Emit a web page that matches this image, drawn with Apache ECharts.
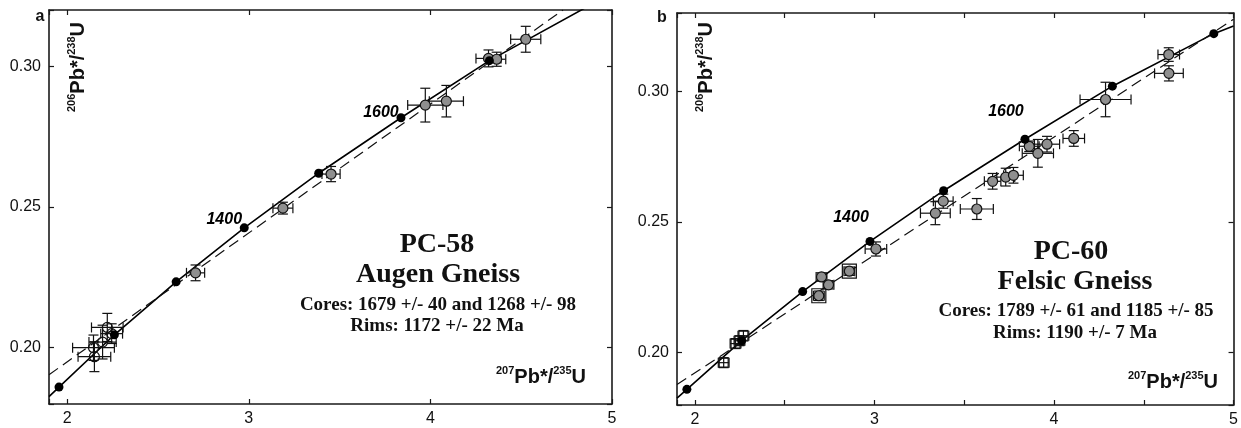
<!DOCTYPE html>
<html>
<head>
<meta charset="UTF-8">
<title>Concordia PC-58 / PC-60</title>
<script src="https://cdn.jsdelivr.net/npm/echarts@6/dist/echarts.min.js"></script>
<style>
  body { margin: 0; background: #fff; }
  #main { width: 1241px; height: 428px; }
</style>
</head>
<body>
<div id="main"></div>
<script>
// concordia age marks (Ma) and their ratios, shared by both panels
var concAge = [1100, 1200, 1300, 1400, 1500, 1600, 1700, 1800];
var concX = [1.955, 2.260, 2.600, 2.975, 3.385, 3.838, 4.325, 4.890];
var concY = [0.1860, 0.2046, 0.2234, 0.2426, 0.2620, 0.2817, 0.3020, 0.3221];
// where the concordia curve leaves the plot
var concEndX = [1.90, 5.00];
var concEndY = [0.1826, 0.3250];

// discordia chords (dashed)
var discAX = [1.90, 4.73], discAY = [0.1904, 0.3200];
var discBX = [1.90, 5.00], discBY = [0.1878, 0.3276];

// panel a : grey filled analyses
var greyAX  = [2.707, 3.188, 3.453, 3.972, 4.088, 4.320, 4.365, 4.525];
var greyAY  = [0.2266, 0.2496, 0.2617, 0.2862, 0.2876, 0.3028, 0.3025, 0.3096];
var greyAEx = [0.050, 0.055, 0.050, 0.097, 0.094, 0.069, 0.050, 0.083];
var greyAEy = [0.0028, 0.0021, 0.0027, 0.0060, 0.0056, 0.0030, 0.0025, 0.0046];
// panel a : open circles (rims)
var openAX  = [2.221, 2.145, 2.150, 2.195, 2.245];
var openAY  = [0.2072, 0.2000, 0.1968, 0.2020, 0.2050];
var openAEx = [0.087, 0.115, 0.090, 0.075, 0.060];
var openAEy = [0.0050, 0.0045, 0.0053, 0.0060, 0.0035];

// panel b : grey filled analyses
var greyBX  = [2.690, 2.705, 2.744, 2.860, 3.008, 3.339, 3.383, 3.570, 3.658, 3.731, 3.774, 3.862, 3.910, 3.961, 4.110, 4.287, 4.639, 4.640];
var greyBY  = [0.2218, 0.2290, 0.2260, 0.2312, 0.2397, 0.2534, 0.2580, 0.2550, 0.2656, 0.2672, 0.2679, 0.2790, 0.2763, 0.2798, 0.2820, 0.2969, 0.3141, 0.3069];
var greyBEx = [0.030, 0.030, 0.030, 0.030, 0.060, 0.083, 0.055, 0.092, 0.046, 0.050, 0.055, 0.055, 0.087, 0.070, 0.060, 0.142, 0.060, 0.080];
var greyBEy = [0.0018, 0.0016, 0.0016, 0.0016, 0.0027, 0.0044, 0.0027, 0.0040, 0.0030, 0.0034, 0.0030, 0.0020, 0.0053, 0.0030, 0.0030, 0.0066, 0.0026, 0.0029];
// grey points drawn with a box round them
var boxedB = [0, 3];
// panel b : open squares (rims)
var sqBX  = [2.160, 2.226, 2.248, 2.270];
var sqBY  = [0.1962, 0.2035, 0.2046, 0.2065];
var sqBEx = [0.030, 0.030, 0.030, 0.030];
var sqBEy = [0.0019, 0.0019, 0.0019, 0.0020];

// axis ranges
var xMin = 1.9, xMax = 5.0;
var yRangeA = [0.18, 0.32], yRangeB = [0.18, 0.33];

var labelAges = [1400, 1600];
var labelOffA = [[-20, -8], [-20, -5]];
var labelOffB = [[-19, -24], [-19, -28]];

var SANS = 'Liberation Sans, Arial, sans-serif';
var SERIF = 'Liberation Serif, Times New Roman, serif';

function pairs(xs, ys) {
    return xs.map(function (x, i) { return [x, ys[i]]; });
}

function concordiaData() {
    var d = [[concEndX[0], concEndY[0]]];
    d = d.concat(pairs(concX, concY));
    d.push([concEndX[1], concEndY[1]]);
    return d;
}

function errSeries(xs, ys, exs, eys, ax) {
    return {
        type: 'custom', xAxisIndex: ax, yAxisIndex: ax, z: 3, silent: true,
        encode: { x: 0, y: 1 },
        data: xs.map(function (x, i) { return [x, ys[i], exs[i], eys[i]]; }),
        renderItem: function (params, api) {
            var x = api.value(0), y = api.value(1), ex = api.value(2), ey = api.value(3);
            var l = api.coord([x - ex, y]), r = api.coord([x + ex, y]);
            var t = api.coord([x, y + ey]), b = api.coord([x, y - ey]);
            var c = 5;
            function ln(x1, y1, x2, y2) {
                return { type: 'line', shape: { x1: x1, y1: y1, x2: x2, y2: y2 },
                         style: { stroke: '#111', lineWidth: 1.2 } };
            }
            return { type: 'group', children: [
                ln(l[0], l[1], r[0], r[1]),
                ln(l[0], l[1] - c, l[0], l[1] + c),
                ln(r[0], r[1] - c, r[0], r[1] + c),
                ln(t[0], t[1], b[0], b[1]),
                ln(t[0] - c, t[1], t[0] + c, t[1]),
                ln(b[0] - c, b[1], b[0] + c, b[1])
            ] };
        }
    };
}

function lineSeries(data, ax, dashed) {
    return {
        type: 'line', xAxisIndex: ax, yAxisIndex: ax, data: data, z: 2,
        showSymbol: false, silent: true, clip: true,
        lineStyle: dashed ? { color: '#111', width: 1.2, type: [11, 6] } : { color: '#000', width: 1.6 }
    };
}

function dotSeries(ax, offs) {
    var data = concX.map(function (x, i) {
        var item = { value: [x, concY[i]] };
        var k = labelAges.indexOf(concAge[i]);
        if (k >= 0) {
            item.label = {
                show: true, position: 'inside', offset: offs[k], formatter: String(concAge[i]),
                fontFamily: SANS, fontSize: 16, fontWeight: 'bold', fontStyle: 'italic',
                color: '#000', textBorderWidth: 0, textBorderColor: 'transparent'
            };
        }
        return item;
    });
    return {
        type: 'scatter', xAxisIndex: ax, yAxisIndex: ax, data: data, z: 6, silent: true,
        symbol: 'circle', symbolSize: 9, itemStyle: { color: '#000', opacity: 1 }
    };
}

function markSeries(xs, ys, ax, symbol, size, fill) {
    return {
        type: 'scatter', xAxisIndex: ax, yAxisIndex: ax, data: pairs(xs, ys), z: 5, silent: true,
        symbol: symbol, symbolSize: size,
        itemStyle: { color: fill, borderColor: '#111', borderWidth: 1.2, opacity: 1 }
    };
}

var axisLine = { show: true, lineStyle: { color: '#1a1a1a', width: 1.6 } };
var axisTick = { show: true, inside: true, length: 5, lineStyle: { color: '#1a1a1a', width: 1.2 } };

function xAxis(grid, pos, labels, split) {
    return {
        type: 'value', gridIndex: grid, position: pos, min: xMin, max: xMax, splitNumber: split,
        axisLine: axisLine, axisTick: axisTick, splitLine: { show: false },
        axisLabel: {
            show: labels, margin: 7, fontFamily: SANS, fontSize: 16, color: '#111',
            formatter: function (v) { return Math.abs(v - Math.round(v)) < 1e-6 ? String(Math.round(v)) : ''; }
        }
    };
}

function yAxis(grid, pos, labels, range) {
    return {
        type: 'value', gridIndex: grid, position: pos, min: range[0], max: range[1], splitNumber: 3,
        axisLine: axisLine, axisTick: axisTick, splitLine: { show: false },
        axisLabel: {
            show: labels, margin: 8, fontFamily: SANS, fontSize: 16, color: '#111',
            formatter: function (v) { return Math.abs(v * 20 - Math.round(v * 20)) < 1e-6 ? v.toFixed(2) : ''; }
        }
    };
}

var ratioRich = {
    s: { fontFamily: SANS, fontSize: 11, fontWeight: 'bold', verticalAlign: 'top', lineHeight: 22, fill: '#111', color: '#111' },
    m: { fontFamily: SANS, fontSize: 20, fontWeight: 'bold', verticalAlign: 'bottom', lineHeight: 22, fill: '#111', color: '#111' }
};

function ratioText(text, x, y, rot) {
    return {
        type: 'text', x: x, y: y, rotation: rot, silent: true,
        style: { text: text, rich: ratioRich, align: 'center', verticalAlign: 'middle', fill: '#111' }
    };
}

function plainText(text, x, y, font, size, weight) {
    return {
        type: 'text', x: x, y: y, silent: true,
        style: { text: text, fontFamily: font, fontSize: size, fontWeight: weight,
                 align: 'center', verticalAlign: 'middle', fill: '#111' }
    };
}

var chart = echarts.init(document.getElementById('main'), null, { renderer: 'canvas' });

var option = {
    backgroundColor: '#fff',
    animation: false,
    grid: [
        { left: 49, top: 10, width: 563, height: 394 },
        { left: 677, top: 13, width: 561, height: 392 }
    ],
    xAxis: [
        xAxis(0, 'bottom', true, 3), xAxis(0, 'top', false, 3),
        xAxis(1, 'bottom', true, 6), xAxis(1, 'top', false, 6)
    ],
    yAxis: [
        yAxis(0, 'left', true, yRangeA), yAxis(0, 'right', false, yRangeA),
        yAxis(1, 'left', true, yRangeB), yAxis(1, 'right', false, yRangeB)
    ],
    series: [
        // panel a
        lineSeries(concordiaData(), 0, false),
        lineSeries(pairs(discAX, discAY), 0, true),
        errSeries(openAX, openAY, openAEx, openAEy, 0),
        errSeries(greyAX, greyAY, greyAEx, greyAEy, 0),
        markSeries(openAX, openAY, 0, 'circle', 10, 'rgba(255,255,255,0)'),
        markSeries(greyAX, greyAY, 0, 'circle', 10, '#8f8f8f'),
        dotSeries(0, labelOffA),
        // panel b
        lineSeries(concordiaData(), 2, false),
        lineSeries(pairs(discBX, discBY), 2, true),
        errSeries(sqBX, sqBY, sqBEx, sqBEy, 2),
        errSeries(greyBX, greyBY, greyBEx, greyBEy, 2),
        markSeries(sqBX, sqBY, 2, 'rect', 9, 'rgba(255,255,255,0)'),
        markSeries(boxedB.map(function (i) { return greyBX[i]; }), boxedB.map(function (i) { return greyBY[i]; }), 2, 'rect', 14, 'rgba(255,255,255,0)'),
        markSeries(greyBX, greyBY, 2, 'circle', 10, '#8f8f8f'),
        dotSeries(2, labelOffB)
    ],
    graphic: [
        plainText('a', 40, 17, SANS, 16, 'bold'),
        plainText('b', 662, 18, SANS, 16, 'bold'),
        ratioText('{s|206}{m|Pb*/}{s|238}{m|U}', 77, 67, Math.PI / 2),
        ratioText('{s|206}{m|Pb*/}{s|238}{m|U}', 705, 67, Math.PI / 2),
        ratioText('{s|207}{m|Pb*/}{s|235}{m|U}', 541, 376, 0),
        ratioText('{s|207}{m|Pb*/}{s|235}{m|U}', 1173, 381, 0),
        plainText('PC-58', 437, 245, SERIF, 28, 'bold'),
        plainText('Augen Gneiss', 438, 275, SERIF, 28, 'bold'),
        plainText('Cores: 1679 +/- 40 and 1268 +/- 98', 438, 305, SERIF, 19, 'bold'),
        plainText('Rims: 1172 +/- 22 Ma', 437, 326, SERIF, 19, 'bold'),
        plainText('PC-60', 1071, 252, SERIF, 28, 'bold'),
        plainText('Felsic Gneiss', 1075, 282, SERIF, 28, 'bold'),
        plainText('Cores: 1789 +/- 61 and 1185 +/- 85', 1076, 311, SERIF, 19, 'bold'),
        plainText('Rims: 1190 +/- 7 Ma', 1075, 333, SERIF, 19, 'bold')
    ]
};

chart.setOption(option);
</script>
</body>
</html>
